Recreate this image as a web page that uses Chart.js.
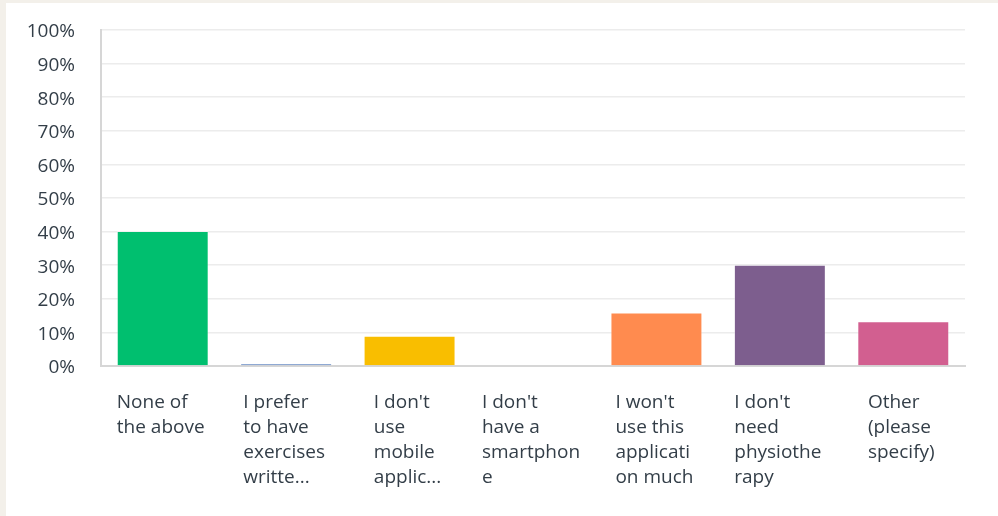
<!DOCTYPE html>
<html>
<head>
<meta charset="utf-8">
<script src="https://cdn.jsdelivr.net/npm/chart.js@4.4.0/dist/chart.umd.min.js"></script>
<style>
  html, body { margin: 0; padding: 0; background: #f3f0ea; }
  #panel { position: absolute; left: 6px; top: 3px; width: 992px; height: 513px; background: #fff; }
</style>
</head>
<body>
<div id="panel"><canvas id="myChart" width="992" height="513"></canvas></div>
<script>
// answer choices, already wrapped / cut the way the survey tool shows them
var categories = [
  ['None of', 'the above'],
  ['I prefer', 'to have', 'exercises', 'writte...'],
  ['I don\'t', 'use', 'mobile', 'applic...'],
  ['I don\'t', 'have a', 'smartphon', 'e'],
  ['I won\'t', 'use this', 'applicati', 'on much'],
  ['I don\'t', 'need', 'physiothe', 'rapy'],
  ['Other', '(please', 'specify)']
];
var percents = [40.2, 0.8, 9.0, 0, 15.9, 30.1, 13.3];
var barColors = ['#00bf6f', '#6a8cc4', '#f9be00', '#6bc8cd', '#ff8b4f', '#7d5e8e', '#d25f90'];
var yTicks = [0, 10, 20, 30, 40, 50, 60, 70, 80, 90, 100];

var labelFont = '19px "Open Sans"';
var labelColor = '#333e48';

// x labels: each block centred under its bar, lines left aligned inside the block
var blockLabels = {
  id: 'blockLabels',
  afterDraw: function (chart) {
    var c = chart.ctx;
    var xs = chart.scales.x;
    c.save();
    c.font = labelFont;
    c.fillStyle = labelColor;
    c.textAlign = 'left';
    c.textBaseline = 'middle';
    categories.forEach(function (lines, i) {
      var w = 0;
      lines.forEach(function (l) { w = Math.max(w, c.measureText(l).width); });
      var left = xs.getPixelForValue(i) - w / 2 - 2;
      lines.forEach(function (l, j) {
        c.fillText(l, left, xs.top + 37 + j * 25);
      });
    });
    c.restore();
  }
};

var ctx = document.getElementById('myChart').getContext('2d');
var myChart = new Chart(ctx, {
  type: 'bar',
  data: {
    labels: categories,
    datasets: [{
      data: percents,
      backgroundColor: barColors,
      borderColor: 'rgba(255,255,255,0.35)',
      borderWidth: 1,
      barPercentage: 0.745,
      categoryPercentage: 1
    }]
  },
  plugins: [blockLabels],
  options: {
    responsive: false,
    animation: false,
    layout: { padding: { top: 27, right: 33, bottom: 0, left: 0 } },
    plugins: {
      legend: { display: false },
      tooltip: { enabled: false }
    },
    scales: {
      y: {
        min: 0,
        max: 100,
        afterFit: function (scale) {
          scale.width = 95;
          // tick padding would otherwise push the plot top down
          scale.paddingTop = 5;
          scale.paddingBottom = 5;
        },
        afterBuildTicks: function (scale) {
          scale.ticks = yTicks.map(function (v) { return { value: v }; });
        },
        ticks: {
          padding: 26,
          labelOffset: 2,
          color: labelColor,
          font: { family: 'Open Sans', size: 19 },
          callback: function (v) { return v + '%'; }
        },
        grid: { color: '#ececec', lineWidth: 1.5, drawTicks: false },
        border: { display: true, color: '#d6d6d6', width: 2 }
      },
      x: {
        afterFit: function (scale) { scale.height = 150; },
        ticks: { display: false },
        grid: { display: false, drawTicks: false },
        border: { display: true, color: '#d6d6d6', width: 2 }
      }
    }
  }
});
</script>
</body>
</html>
